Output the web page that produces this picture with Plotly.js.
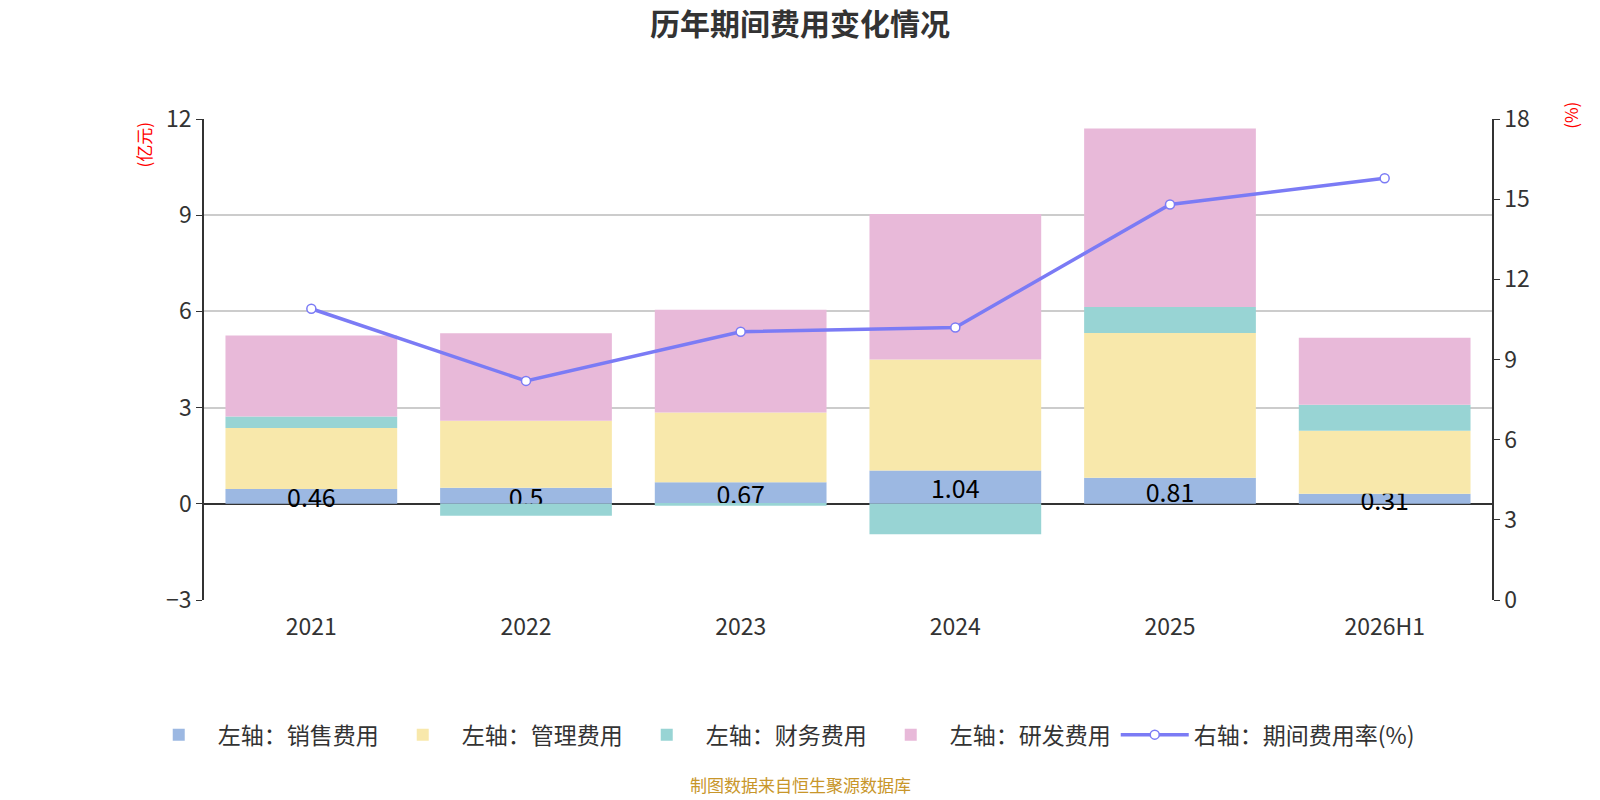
<!DOCTYPE html>
<html>
<head>
<meta charset="utf-8">
<script src="https://cdn.plot.ly/plotly-3.0.1.min.js"></script>
<style>
    html, body { margin: 0; padding: 0; background: #fff; }
    #chart { width: 1600px; height: 800px; }
</style>
</head>
<body>
<div id="chart"></div>
<script>
// 历年期间费用 (亿元) and 期间费用率 (%)
var years = ['2021', '2022', '2023', '2024', '2025', '2026H1'];
var sales = [0.46, 0.50, 0.67, 1.04, 0.81, 0.31];
var admin = [1.90, 2.09, 2.18, 3.46, 4.52, 1.97];
var finance = [0.36, -0.37, -0.06, -0.95, 0.81, 0.81];
var rnd = [2.53, 2.73, 3.20, 4.54, 5.56, 2.09];
var expenseRate = [10.9, 8.2, 10.04, 10.2, 14.8, 15.78];
var boundaryTicks = [0.5, 1.5, 2.5, 3.5, 4.5];

var FONT = '"Noto Sans CJK SC", "Noto Sans", sans-serif';

function barTrace(name, values, color, withText) {
    var t = {
        x: years, y: values, name: name, type: 'bar',
        marker: { color: color, line: { width: 0 } },
        width: 0.8, hoverinfo: 'y+name'
    };
    if (withText) {
        t.text = values.map(function (v) { return String(v); });
        t.textposition = 'inside';
        t.insidetextanchor = 'middle';
        t.textangle = 0;
        t.constraintext = 'none';
        t.textfont = { family: FONT, size: 25, color: '#000' };
    } else {
        t.textposition = 'none';
    }
    return t;
}

var traces = [
    barTrace('左轴：销售费用', sales, '#9cb8e2', true),
    barTrace('左轴：管理费用', admin, '#f8e8ab', false),
    barTrace('左轴：财务费用', finance, '#98d4d4', false),
    barTrace('左轴：研发费用', rnd, '#e8b9d9', false),
    {
        x: years, y: expenseRate, name: '右轴：期间费用率(%)', yaxis: 'y2',
        type: 'scatter', mode: 'lines+markers',
        line: { color: '#7b7bf5', width: 3.5 },
        marker: { symbol: 'circle', size: 9, color: '#fff', line: { color: '#7b7bf5', width: 1.5 } }
    }
];

var axisFont = { family: FONT, size: 23, color: '#333' };

var layout = {
    width: 1600, height: 800,
    paper_bgcolor: '#fff', plot_bgcolor: '#fff',
    font: { family: FONT, color: '#333' },
    margin: { t: 119, r: 108, b: 200, l: 204 },
    barmode: 'relative', bargap: 0.2,
    showlegend: true,
    title: {
        text: '<b>历年期间费用变化情况</b>',
        font: { family: FONT, size: 30, color: '#333' },
        x: 0.5, xanchor: 'center', y: 0.969, yanchor: 'middle'
    },
    xaxis: {
        type: 'category', range: [-0.5, 5.5],
        showline: false, showgrid: false, zeroline: false,
        ticks: 'outside', ticklen: 6, tickcolor: 'rgba(0,0,0,0)',
        tickfont: axisFont
    },
    xaxis2: {
        overlaying: 'x', anchor: 'free', position: 0.2,
        range: [-0.5, 5.5], tickvals: boundaryTicks,
        showticklabels: false, showline: false, showgrid: false, zeroline: false,
        ticks: 'outside', ticklen: 9, tickwidth: 1.5, tickcolor: '#333'
    },
    yaxis: {
        range: [-3, 12], dtick: 3,
        showgrid: true, gridcolor: '#cccccc', gridwidth: 1.5,
        showline: true, linecolor: '#333', linewidth: 1.5,
        ticks: 'outside', ticklen: 6, tickcolor: '#333',
        zeroline: true, zerolinecolor: '#333', zerolinewidth: 2,
        tickfont: axisFont
    },
    yaxis2: {
        overlaying: 'y', side: 'right',
        range: [0, 18], dtick: 3,
        showgrid: false, zeroline: false,
        showline: true, linecolor: '#333', linewidth: 1.5,
        ticks: 'outside', ticklen: 6, tickcolor: '#333',
        tickfont: axisFont
    },
    legend: {
        orientation: 'h', traceorder: 'normal',
        x: 0.447, xanchor: 'center', y: -0.28, yanchor: 'middle',
        font: { family: FONT, size: 23, color: '#333' },
        itemwidth: 68
    },
    annotations: [
        {
            text: '(亿元)', xref: 'paper', yref: 'paper', x: -0.047, y: 1.0,
            xanchor: 'center', yanchor: 'top', textangle: -90, showarrow: false,
            font: { family: FONT, size: 17, color: '#ff0000' }
        },
        {
            text: '(%)', xref: 'paper', yref: 'paper', x: 1.061, y: 1.04,
            xanchor: 'center', yanchor: 'top', textangle: -90, showarrow: false,
            font: { family: FONT, size: 17, color: '#ff0000' }
        },
        {
            text: '制图数据来自恒生聚源数据库', xref: 'paper', yref: 'paper', x: 0.463, y: -0.384,
            xanchor: 'center', yanchor: 'middle', showarrow: false,
            font: { family: FONT, size: 17, color: '#c8962a' }
        }
    ]
};

Plotly.newPlot('chart', traces, layout, { displayModeBar: false, responsive: false });
</script>
</body>
</html>
